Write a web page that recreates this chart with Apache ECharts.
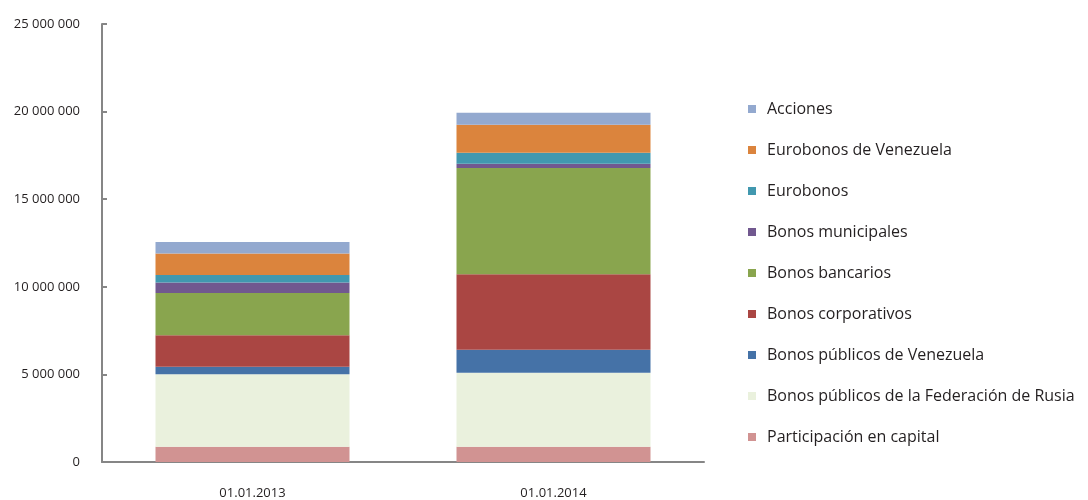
<!DOCTYPE html>
<html>
<head>
<meta charset="utf-8">
<script src="https://cdn.jsdelivr.net/npm/echarts@6/dist/echarts.min.js"></script>
<style>
  html, body { margin: 0; padding: 0; background: #ffffff; }
  #chart { width: 1088px; height: 500px; }
</style>
</head>
<body>
<div id="chart"></div>
<script>
// categories (x axis)
var fechas = ["01.01.2013", "01.01.2014"];

// series names, bottom to top of the stack
var nombres = [
  "Participación en capital",
  "Bonos públicos de la Federación de Rusia",
  "Bonos públicos de Venezuela",
  "Bonos corporativos",
  "Bonos bancarios",
  "Bonos municipales",
  "Eurobonos",
  "Eurobonos de Venezuela",
  "Acciones"
];

// values per series (2013, 2014)
var participacion = [870000, 870000];
var bonosRusia = [4140000, 4230000];
var bonosVenezuela = [420000, 1300000];
var bonosCorporativos = [1800000, 4310000];
var bonosBancarios = [2410000, 6070000];
var bonosMunicipales = [610000, 250000];
var eurobonos = [430000, 620000];
var eurobonosVenezuela = [1220000, 1600000];
var acciones = [660000, 680000];

var valores = [participacion, bonosRusia, bonosVenezuela, bonosCorporativos,
  bonosBancarios, bonosMunicipales, eurobonos, eurobonosVenezuela, acciones];

var colores = ["#D19392", "#EAF1DD", "#4572A7", "#AA4643", "#89A54E",
  "#71588F", "#4198AF", "#DB843D", "#93A9CF"];

var fuente = "'Open Sans', 'Noto Sans', sans-serif";

var myChart = echarts.init(document.getElementById("chart"));

var series = nombres.map(function (n, i) {
  return {
    name: n,
    type: "bar",
    stack: "total",
    barWidth: 194,
    data: valores[i],
    itemStyle: { color: colores[i] }
  };
});

var option = {
  animation: false,
  backgroundColor: "#ffffff",
  grid: { left: 102, right: 384, top: 24, bottom: 37, containLabel: false },
  legend: {
    orient: "vertical",
    left: 743,
    top: 94,
    data: nombres.slice().reverse(),
    icon: "rect",
    itemWidth: 8,
    itemHeight: 8,
    itemGap: 21,
    selectedMode: false,
    textStyle: {
      fontFamily: fuente,
      fontSize: 16,
      color: "#231F20",
      lineHeight: 20,
      padding: [0, 0, 0, 6]
    }
  },
  xAxis: {
    type: "category",
    data: fechas,
    axisLine: { lineStyle: { color: "#868686", width: 2 } },
    axisTick: { show: false },
    axisLabel: {
      fontFamily: fuente,
      fontSize: 13,
      color: "#231F20",
      margin: 25
    }
  },
  yAxis: {
    type: "value",
    min: 0,
    max: 25000000,
    interval: 5000000,
    axisLine: { show: true, lineStyle: { color: "#868686", width: 2 } },
    axisTick: { show: true, inside: true, length: 5, lineStyle: { color: "#868686", width: 2 } },
    splitLine: { show: false },
    axisLabel: {
      fontFamily: fuente,
      fontSize: 13,
      color: "#231F20",
      margin: 22,
      formatter: function (v) {
        return String(v).replace(/\B(?=(\d{3})+(?!\d))/g, " ");
      }
    }
  },
  series: series
};

myChart.setOption(option);
</script>
</body>
</html>
